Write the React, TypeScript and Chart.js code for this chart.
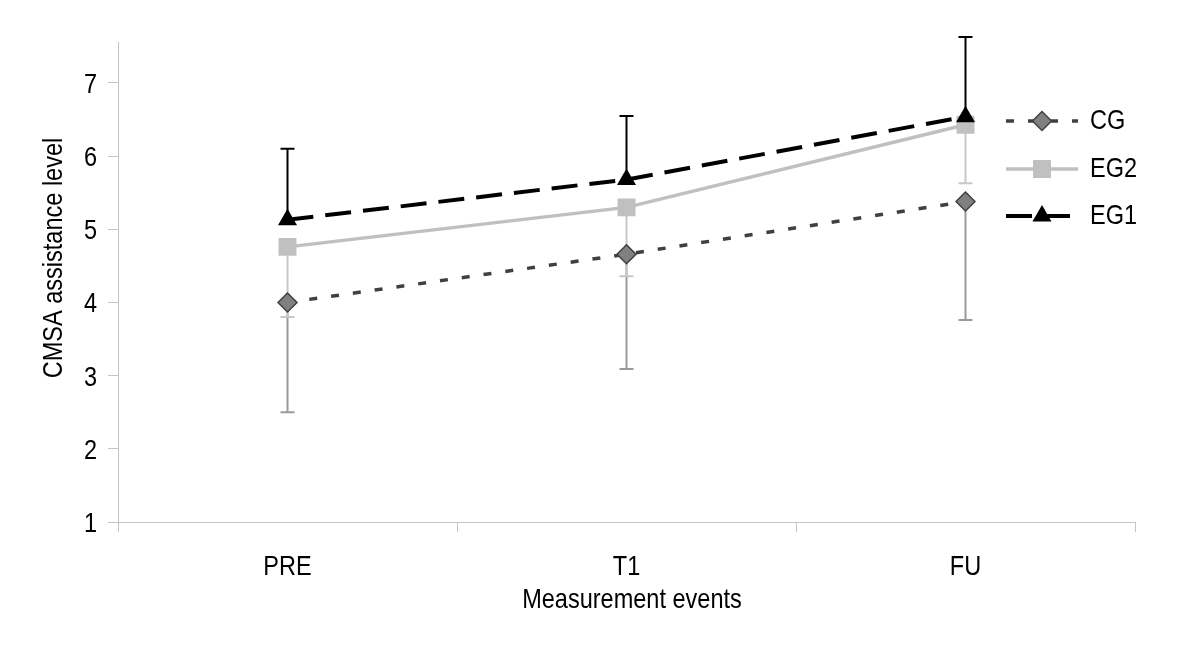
import React, { useEffect, useRef } from "react";
import { Chart, registerables } from "chart.js";
import { drawPoint } from "chart.js/helpers";

Chart.register(...registerables);

const categories = ["PRE", "T1", "FU"];
const seriesNames = ["CG", "EG2", "EG1"];
const cgMeans = [4.0, 4.66, 5.38];
const cgLower = [2.5, 3.09, 3.76];
const eg2Means = [4.76, 5.3, 6.43];
const eg2Lower = [3.8, 4.36, 5.63];
const eg1Means = [5.13, 5.68, 6.54];
const eg1Upper = [6.1, 6.55, 7.63];
const yMin = 1;
const yMax = 7.56;
const yStep = 1;
const yTitle = "CMSA assistance level";
const xTitle = "Measurement events";

const FONT = "'Liberation Sans', Arial, sans-serif";
const NARROW = 0.84;
const AXIS = "#c4c4c4";

function narrowText(ctx: any, text: string, x: number, y: number, align: CanvasTextAlign, rotate = 0) {
  ctx.save();
  ctx.translate(x, y);
  if (rotate) ctx.rotate(rotate);
  ctx.scale(NARROW, 1);
  ctx.font = `28px ${FONT}`;
  ctx.fillStyle = "#000";
  ctx.textAlign = align;
  ctx.textBaseline = "alphabetic";
  ctx.fillText(text, 0, 0);
  ctx.restore();
}

const errorBarPlugin = {
  id: "errorBars",
  beforeDatasetsDraw(chart: any) {
    const ctx = chart.ctx;
    const ys = chart.scales.y;
    chart.data.datasets.forEach((ds: any, i: number) => {
      const meta = chart.getDatasetMeta(i);
      ctx.save();
      ctx.strokeStyle = ds.errorColor;
      ctx.lineWidth = 2;
      ctx.setLineDash([]);
      meta.data.forEach((pt: any, j: number) => {
        const x = pt.x;
        const y0 = ys.getPixelForValue(ds.data[j]);
        const y1 = ys.getPixelForValue(ds.errorEnd[j]);
        ctx.beginPath();
        ctx.moveTo(x, y0);
        ctx.lineTo(x, y1);
        ctx.moveTo(x - 7, y1);
        ctx.lineTo(x + 7, y1);
        ctx.stroke();
      });
      ctx.restore();
    });
  },
};

const legendPlugin = {
  id: "customLegend",
  afterDraw(chart: any) {
    const ctx = chart.ctx;
    const x0 = 1006;
    const x1 = 1078;
    const rows = [121, 169, 216];
    chart.data.datasets.forEach((ds: any, i: number) => {
      const y = rows[i];
      ctx.save();
      ctx.strokeStyle = ds.borderColor;
      ctx.lineWidth = ds.borderWidth;
      ctx.setLineDash(ds.borderDash || []);
      ctx.beginPath();
      ctx.moveTo(x0, y);
      ctx.lineTo(x1, y);
      ctx.stroke();
      ctx.setLineDash([]);
      ctx.fillStyle = ds.pointBackgroundColor;
      ctx.strokeStyle = ds.pointBorderColor;
      ctx.lineWidth = ds.pointBorderWidth;
      drawPoint(ctx, { pointStyle: ds.pointStyle, rotation: 0, radius: ds.pointRadius, borderWidth: ds.pointBorderWidth }, (x0 + x1) / 2, y);
      ctx.restore();
      narrowText(ctx, ds.label, 1090, y + 8, "left");
    });
  },
};

const textPlugin = {
  id: "axisText",
  afterDraw(chart: any) {
    const ctx = chart.ctx;
    const xs = chart.scales.x;
    const ys = chart.scales.y;
    ys.ticks.forEach((t: any, i: number) => {
      narrowText(ctx, String(t.label), 97, ys.getPixelForTick(i) + 10, "right");
    });
    xs.ticks.forEach((t: any, i: number) => {
      narrowText(ctx, String(t.label), xs.getPixelForTick(i), 575, "center");
    });
    narrowText(ctx, xTitle, 632, 608, "center");
    narrowText(ctx, yTitle, 62, 258, "center", -Math.PI / 2);
  },
};

export default function App() {
  const ref = useRef<HTMLCanvasElement>(null);
  useEffect(() => {
    document.body.style.margin = "0";
    const chart = new Chart(ref.current as HTMLCanvasElement, {
      type: "line",
      data: {
        labels: categories,
        datasets: [
          {
            label: seriesNames[0],
            data: cgMeans,
            errorEnd: cgLower,
            errorColor: "#9a9a9a",
            borderColor: "#404040",
            borderWidth: 3.5,
            borderDash: [8, 14],
            pointStyle: "rectRot",
            pointRadius: 9.5,
            pointBackgroundColor: "#808080",
            pointBorderColor: "#404040",
            pointBorderWidth: 1.5,
            order: 1,
          } as any,
          {
            label: seriesNames[1],
            data: eg2Means,
            errorEnd: eg2Lower,
            errorColor: "#c8c8c8",
            borderColor: "#c0c0c0",
            borderWidth: 3.5,
            pointStyle: "rect",
            pointRadius: 12.7,
            pointBackgroundColor: "#c0c0c0",
            pointBorderColor: "#c0c0c0",
            pointBorderWidth: 0,
            order: 2,
          } as any,
          {
            label: seriesNames[2],
            data: eg1Means,
            errorEnd: eg1Upper,
            errorColor: "#000000",
            borderColor: "#000000",
            borderWidth: 4,
            borderDash: [26, 12],
            pointStyle: "triangle",
            pointRadius: 11,
            pointBackgroundColor: "#000000",
            pointBorderColor: "#000000",
            pointBorderWidth: 0,
            order: 0,
          } as any,
        ],
      },
      options: {
        responsive: false,
        animation: false,
        events: [],
        layout: { padding: { top: 42, right: 65, left: 0, bottom: 0 } },
        plugins: { legend: { display: false }, tooltip: { enabled: false } },
        elements: { line: { tension: 0 } },
        scales: {
          x: {
            type: "category",
            offset: true,
            grid: { display: true, offset: true, drawOnChartArea: false, tickLength: 10, color: AXIS },
            border: { display: true, color: AXIS, width: 1 },
            ticks: { display: false },
            afterFit: (s: any) => { s.height = 146; },
          },
          y: {
            min: yMin,
            max: yMax,
            grid: { display: true, drawOnChartArea: false, tickLength: 10, color: AXIS },
            border: { display: true, color: AXIS, width: 1 },
            ticks: { display: false, stepSize: yStep, includeBounds: false },
            afterFit: (s: any) => { s.width = 118; },
          },
        },
      },
      plugins: [errorBarPlugin, legendPlugin, textPlugin],
    });
    return () => chart.destroy();
  }, []);
  return (
    <div style={{ width: 1200, height: 668 }}>
      <canvas ref={ref} width={1200} height={668} style={{ display: "block" }} />
    </div>
  );
}
